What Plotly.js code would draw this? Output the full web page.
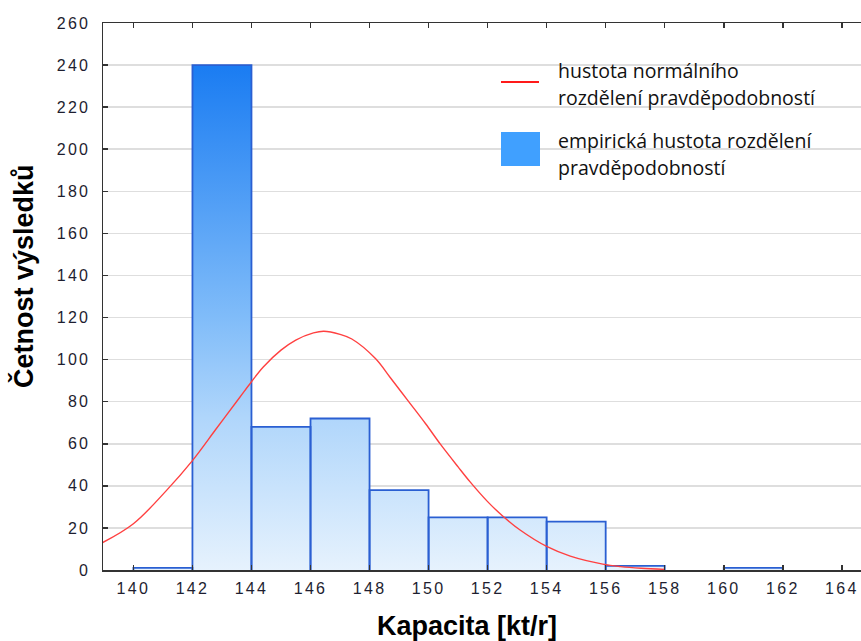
<!DOCTYPE html>
<html>
<head>
<meta charset="utf-8">
<script src="https://cdn.plot.ly/plotly-3.0.1.min.js"></script>
<style>
html,body{margin:0;padding:0;background:#fff;}
#chart{width:861px;height:641px;}
.xtick text, .ytick text {letter-spacing: 2.3px;}
</style>
</head>
<body>
<div id="chart"></div>
<script>
// Histogram bins (Kapacita [kt/r]) and counts
const binEdges = [140, 142, 144, 146, 148, 150, 152, 154, 156, 158, 160, 162];
const binCounts = [1, 240, 68, 72, 38, 25, 25, 23, 2, 0, 1];

// Normal density curve (scaled to counts)
const curveX = [138.9, 140, 141.1, 142, 142.8, 143.6, 144, 144.4, 145, 145.5, 146.1, 146.45, 147, 147.4, 148.2, 148.7, 149.3, 149.9, 150.4, 151, 151.4, 152, 152.5, 153.1, 154, 154.8, 155.9, 156.5, 157.2, 158];
const curveY = [12.6, 22, 37.5, 52, 67, 82, 89.5, 96.5, 104.5, 109.3, 112.7, 113.5, 112, 109.8, 100.5, 91.5, 80.5, 69.5, 59.8, 49, 42, 32.5, 25.8, 19, 11.2, 6.6, 2.8, 1.6, 0.8, 0.3];

const xTicks = [140, 142, 144, 146, 148, 150, 152, 154, 156, 158, 160, 162, 164];
const yTicks = [0, 20, 40, 60, 80, 100, 120, 140, 160, 180, 200, 220, 240, 260];

const legendLabels = [
  ["hustota normálního", "rozdělení pravděpodobností"],
  ["empirická hustota rozdělení", "pravděpodobností"]
];
const xTitle = "Kapacita [kt/r]";
const yTitle = "Četnost výsledků";

// Step fill built from the bins
const stepY = binCounts.concat([binCounts[binCounts.length - 1]]);
// Bar outlines built from the bins
const outX = [], outY = [];
binCounts.forEach((v, i) => {
  if (v <= 0) return;
  const a = binEdges[i], b = binEdges[i + 1];
  outX.push(a, a, b, b, null);
  outY.push(0, v, v, 0, null);
});

// Layout geometry (pixels)
const W = 861, H = 641;
const mL = 103, mR = 0, mT = 23, mB = 71;
const pw = W - mL - mR, ph = H - mT - mB;
const px = v => (v - mL) / pw;
const py = v => (H - mB - v) / ph;

const legendFont = {family: 'Open Sans, Noto Sans, sans-serif', size: 19.5, color: '#111'};
const titleFont = {family: 'Liberation Sans, Arial, sans-serif', size: 27, color: '#000'};

const traces = [
  {
    type: 'scatter', mode: 'lines',
    x: binEdges, y: stepY,
    line: {shape: 'hv', width: 0, color: 'rgba(0,0,0,0)'},
    fill: 'tozeroy',
    fillgradient: {
      type: 'vertical', start: 0, stop: 240,
      colorscale: [[0, '#e6f2fd'], [0.3, '#b0d6fb'], [0.5, '#80bcf9'], [1, '#1a7cf2']]
    },
    hoverinfo: 'skip', showlegend: false
  },
  {
    type: 'scatter', mode: 'lines',
    x: outX, y: outY,
    line: {color: '#2a5fd2', width: 1.8},
    connectgaps: false,
    showlegend: false
  },
  {
    type: 'scatter', mode: 'lines',
    x: curveX, y: curveY,
    line: {color: '#ff4040', width: 1.4, shape: 'spline', smoothing: 1},
    showlegend: false
  }
];

const layout = {
  width: W, height: H,
  margin: {l: mL, r: mR, t: mT, b: mB, pad: 0},
  paper_bgcolor: '#ffffff', plot_bgcolor: '#ffffff',
  showlegend: false,
  font: {family: 'Liberation Sans, Arial, sans-serif', color: '#1e1e30'},
  xaxis: {
    range: [138.97, 164.65],
    tickvals: xTicks, ticktext: xTicks.map(String),
    ticks: 'inside', ticklen: 5, tickwidth: 1.5, tickcolor: '#333',
    showline: true, linecolor: '#333', linewidth: 1.5,
    mirror: 'ticks',
    showgrid: false, zeroline: false,
    tickfont: {size: 16, color: '#1e1e30'},
    ticklabelstandoff: 3
  },
  yaxis: {
    range: [0, 260],
    tickvals: yTicks, ticktext: yTicks.map(String),
    ticks: 'inside', ticklen: 5, tickwidth: 1.5, tickcolor: '#333',
    showline: true, linecolor: '#333', linewidth: 1.5,
    showgrid: true, gridcolor: '#dedede', gridwidth: 1.5,
    zeroline: false,
    tickfont: {size: 16, color: '#1e1e30'},
    ticklabelstandoff: 8
  },
  shapes: [
    {type: 'line', xref: 'paper', yref: 'paper', x0: px(501), x1: px(539), y0: py(82), y1: py(82),
     line: {color: '#ff1a1a', width: 2}},
    {type: 'rect', xref: 'paper', yref: 'paper', x0: px(501), x1: px(540), y0: py(166), y1: py(132),
     fillcolor: '#40a0ff', line: {width: 0}}
  ],
  annotations: [
    {text: legendLabels[0][0], xref: 'paper', yref: 'paper', x: px(556), y: py(70), xanchor: 'left', yanchor: 'middle', showarrow: false, font: legendFont},
    {text: legendLabels[0][1], xref: 'paper', yref: 'paper', x: px(556), y: py(97), xanchor: 'left', yanchor: 'middle', showarrow: false, font: legendFont},
    {text: legendLabels[1][0], xref: 'paper', yref: 'paper', x: px(556), y: py(140), xanchor: 'left', yanchor: 'middle', showarrow: false, font: legendFont},
    {text: legendLabels[1][1], xref: 'paper', yref: 'paper', x: px(556), y: py(167), xanchor: 'left', yanchor: 'middle', showarrow: false, font: legendFont},
    {text: '<b>' + xTitle + '</b>', xref: 'paper', yref: 'paper', x: px(467), y: py(626), xanchor: 'center', yanchor: 'middle', showarrow: false, font: titleFont},
    {text: '<b>' + yTitle + '</b>', xref: 'paper', yref: 'paper', x: px(23), y: py(276), xanchor: 'center', yanchor: 'middle', showarrow: false, textangle: -90, font: titleFont}
  ]
};

Plotly.newPlot('chart', traces, layout, {displayModeBar: false, staticPlot: true});
</script>
</body>
</html>
